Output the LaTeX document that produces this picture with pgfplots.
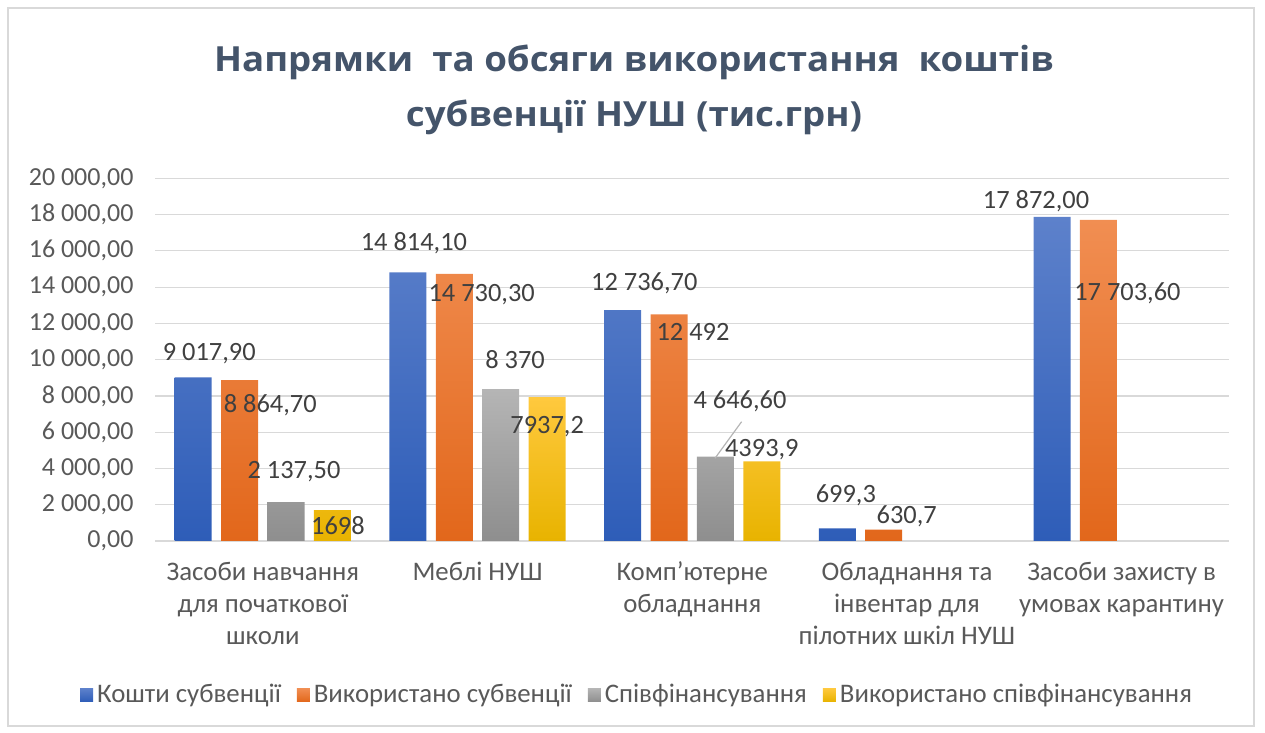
\documentclass[border=0pt]{standalone}
\usepackage{fontspec}
\setmainfont{Carlito}
\newfontfamily\titlefont{Open Sans}
\usepackage{pgfplots}
\pgfplotsset{compat=1.18}
\definecolor{titlec}{HTML}{44546A}
\definecolor{txt}{HTML}{595959}
\definecolor{lab}{HTML}{404040}
\definecolor{gridc}{HTML}{D9D9D9}
\definecolor{bT}{HTML}{5D81CB}
\definecolor{bB}{HTML}{2E5DB8}
\definecolor{oT}{HTML}{F18E52}
\definecolor{oB}{HTML}{E2671B}
\definecolor{gT}{HTML}{B5B5B5}
\definecolor{gB}{HTML}{8E8E8E}
\definecolor{yT}{HTML}{FFC93E}
\definecolor{yB}{HTML}{E8B300}
\begin{document}
\begin{tikzpicture}
\useasboundingbox (-77.75pt,-96pt) rectangle (554.75pt,270.5pt);
\draw[gridc, line width=0.8pt] (-73.75pt,-92.5pt) rectangle (549.25pt,266.5pt);
\begin{axis}[
  scale only axis,
  width=536.75pt, height=181.35pt,
  at={(0,0)}, anchor=south west,
  ybar=4.7pt, bar width=18.5pt,
  xmin=-0.5, xmax=4.5, ymin=0, ymax=20000,
  scaled y ticks=false,
  xtick={0,1,2,3,4},
  xticklabels={{Засоби навчання\\для початкової\\школи},{Меблі НУШ},{Комп'ютерне\\обладнання},{Обладнання та\\інвентар для\\пілотних шкіл НУШ},{Засоби захисту в\\умовах карантину}},
  xticklabel style={align=center, font=\fontsize{13.4}{16}\selectfont, text=txt, anchor=north, yshift=-7pt},
  ytick={0,2000,...,20000},
  yticklabels={{0,00},{2 000,00},{4 000,00},{6 000,00},{8 000,00},{10 000,00},{12 000,00},{14 000,00},{16 000,00},{18 000,00},{20 000,00}},
  yticklabel style={font=\fontsize{13}{15}\selectfont, text=txt, anchor=east, xshift=-7.5pt},
  /pgf/number format/assume math mode=true,
  major tick length=0pt,
  tick style={draw=none},
  axis line style={draw=none},
  ymajorgrids, grid style={gridc, line width=0.6pt},
  clip=false,
  point meta=explicit symbolic,
  nodes near coords,
  visualization depends on={\thisrow{dx}\as\mydx},
  visualization depends on={\thisrow{dy}\as\mydy},
  nodes near coords style={anchor=center, xshift=\mydx pt, yshift=\mydy pt, font=\fontsize{13.2}{15}\selectfont, text=lab, inner sep=0pt},
  legend columns=4,
  legend style={at={(axis description cs:0.4495,-0.4246)}, anchor=center, draw=none, fill=none, font=\fontsize{13.4}{15}\selectfont, text=txt,
    /tikz/every even column/.append style={column sep=6pt}},
  legend image code/.code={\fill[#1] (0pt,-3.3pt) rectangle (6.5pt,3.3pt);},
]
\addplot[draw=none, top color=bT, bottom color=bB] table[x=x, y=y, meta=lab] {
x y dx dy lab
0 9017.9 8 11.75 {9 017,90}
1 14814.1 3 14.5 {14 814,10}
2 12736.7 10.8 13.3 {12 736,70}
3 699.3 4.25 16.5 {699,3}
4 17872 -8 7.75 {17 872,00}
};
\addplot[draw=none, top color=oT, bottom color=oB] table[x=x, y=y, meta=lab] {
x y dx dy lab
0 8864.7 15.3 -12.35 {8 864,70}
1 14730.3 13.65 -10.5 {14 730,30}
2 12492 12 -8.5 {12 492}
3 630.7 11.5 6.5 {630,7}
4 17703.6 14.5 -36.5 {17 703,60}
};
\addplot[draw=none, top color=gT, bottom color=gB] table[x=x, y=y, meta=lab] {
x y dx dy lab
0 2137.5 4 15.25 {2 137,50}
1 8370 7.15 14.65 {8 370}
2 4646.6 12.3 27.5 {4 646,60}
};
\addplot[draw=none, top color=yT, bottom color=yB] table[x=x, y=y, meta=lab] {
x y dx dy lab
0 1698 2.75 -7.9 {1698}
1 7937.2 0 -14.8 {7937,2}
2 4393.9 0 5.65 {4393,9}
};
\legend{Кошти субвенції, Використано субвенції, Співфінансування, Використано співфінансування}
\draw[gT, line width=0.6pt] (axis cs:2.106,4561) -- (axis cs:2.230,6580);
\end{axis}
\node[anchor=base, font=\titlefont\fontsize{17.3}{20}\selectfont\bfseries, text=titlec] at (239.25pt,234.65pt) {\scalebox{1.06}[1]{Напрямки\ \ та обсяги використання\ \ коштів}};
\node[anchor=base, font=\titlefont\fontsize{17.3}{20}\selectfont\bfseries, text=titlec] at (239.25pt,207pt) {\scalebox{1.06}[1]{субвенції НУШ (тис.грн)}};
\end{tikzpicture}
\end{document}
